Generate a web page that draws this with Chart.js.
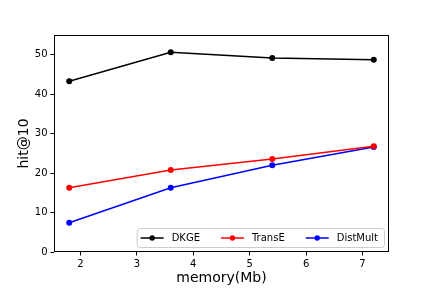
<!DOCTYPE html>
<html>
<head>
<meta charset="utf-8">
<script src="https://cdn.jsdelivr.net/npm/chart.js@4.4.0/dist/chart.umd.min.js"></script>
<style>
  html, body { margin: 0; padding: 0; background: #fff; }
  #wrap { width: 432px; height: 288px; }
</style>
</head>
<body>
<div id="wrap"><canvas id="chart" width="432" height="288"></canvas></div>
<script>
// Values
const memory = [1.8, 3.6, 5.4, 7.2];
const dkge = [43.3, 50.6, 49.2, 48.7];
const transE = [16.3, 20.8, 23.6, 26.8];
const distMult = [7.4, 16.3, 22.0, 26.6];
const seriesNames = ['DKGE', 'TransE', 'DistMult'];
const seriesColors = ['#000000', '#ff0000', '#0000ff'];
const xTicks = [2, 3, 4, 5, 6, 7];
const yTicks = [0, 10, 20, 30, 40, 50];

const FONT = '"DejaVu Sans", "Liberation Sans", sans-serif';

function toPoints(values) {
    return memory.map((x, i) => ({ x: x, y: values[i] }));
}

const allSeries = [dkge, transE, distMult];
const datasets = allSeries.map((values, i) => ({
    label: seriesNames[i],
    data: toPoints(values),
    borderColor: seriesColors[i],
    backgroundColor: seriesColors[i],
    borderWidth: 1.5,
    pointRadius: 3,
    pointBorderWidth: 0,
    pointHoverRadius: 3,
    fill: false,
    tension: 0
}));

// Frame around the plot area (matplotlib spines)
const frame = {
    id: 'frame',
    afterDatasetsDraw(chart) {
        const a = chart.chartArea;
        const ctx = chart.ctx;
        ctx.save();
        ctx.strokeStyle = '#000';
        ctx.lineWidth = 1;
        ctx.strokeRect(Math.round(a.left) + 0.5, Math.round(a.top) + 0.5,
            Math.round(a.right - a.left) - 1, Math.round(a.bottom - a.top) - 1);
        ctx.restore();
    }
};

// Legend drawn inside the plot area, lower right, in one row
const insideLegend = {
    id: 'insideLegend',
    afterDraw(chart) {
        const ctx = chart.ctx;
        const a = chart.chartArea;
        const sets = chart.data.datasets;
        ctx.save();
        ctx.font = '10px ' + FONT;
        const padL = 4, padR = 6, handle = 23, gap = 8, colGap = 21, h = 19;
        const widths = sets.map(d => ctx.measureText(d.label).width);
        const w = padL + padR + widths.reduce((s, v) => s + v, 0) +
            sets.length * (handle + gap) + (sets.length - 1) * colGap;
        const x0 = a.right - 5 - w;
        const y0 = a.bottom - 5 - h;

        ctx.beginPath();
        ctx.roundRect(x0 + 0.5, y0 + 0.5, w, h, 3);
        ctx.fillStyle = 'rgba(255,255,255,0.8)';
        ctx.fill();
        ctx.strokeStyle = '#cccccc';
        ctx.lineWidth = 1;
        ctx.stroke();

        let x = x0 + padL;
        const cy = y0 + h / 2 + 0.5;
        sets.forEach((d, i) => {
            ctx.strokeStyle = d.borderColor;
            ctx.lineWidth = 1.5;
            ctx.beginPath();
            ctx.moveTo(x, cy);
            ctx.lineTo(x + handle, cy);
            ctx.stroke();
            ctx.fillStyle = d.borderColor;
            ctx.beginPath();
            ctx.arc(x + handle / 2, cy, 2.7, 0, Math.PI * 2);
            ctx.fill();
            ctx.fillStyle = '#000';
            ctx.textBaseline = 'middle';
            ctx.textAlign = 'left';
            ctx.fillText(d.label, x + handle + gap, cy);
            x += handle + gap + widths[i] + colGap;
        });
        ctx.restore();
    }
};

new Chart(document.getElementById('chart'), {
    type: 'line',
    data: { datasets },
    options: {
        responsive: false,
        animation: false,
        devicePixelRatio: 1,
        layout: { padding: { left: 0, top: 35, right: 43, bottom: 0 } },
        plugins: {
            legend: { display: false },
            tooltip: { enabled: false }
        },
        scales: {
            x: {
                type: 'linear',
                min: 1.53,
                max: 7.47,
                afterBuildTicks: scale => { scale.ticks = xTicks.map(v => ({ value: v })); },
                afterFit: scale => { scale.height = 36; },
                border: { display: false },
                grid: { display: true, drawOnChartArea: false, drawTicks: true, tickLength: 3.5, color: '#000' },
                ticks: { color: '#000', font: { family: FONT, size: 10 }, padding: 3, maxRotation: 0 },
                title: {
                    display: true,
                    text: 'memory(Mb)',
                    color: '#000',
                    font: { family: FONT, size: 14 },
                    padding: { top: 0, bottom: 1.5 }
                }
            },
            y: {
                type: 'linear',
                min: 0,
                max: 55,
                afterBuildTicks: scale => { scale.ticks = yTicks.map(v => ({ value: v })); },
                afterFit: scale => { scale.width = 54; },
                border: { display: false },
                grid: { display: true, drawOnChartArea: false, drawTicks: true, tickLength: 3.5, color: '#000' },
                ticks: { color: '#000', font: { family: FONT, size: 10 }, padding: 3 },
                title: {
                    display: true,
                    text: 'hit@10',
                    color: '#000',
                    font: { family: FONT, size: 14 },
                    padding: { top: 15.5, bottom: 0 }
                }
            }
        }
    },
    plugins: [frame, insideLegend]
});
</script>
</body>
</html>
